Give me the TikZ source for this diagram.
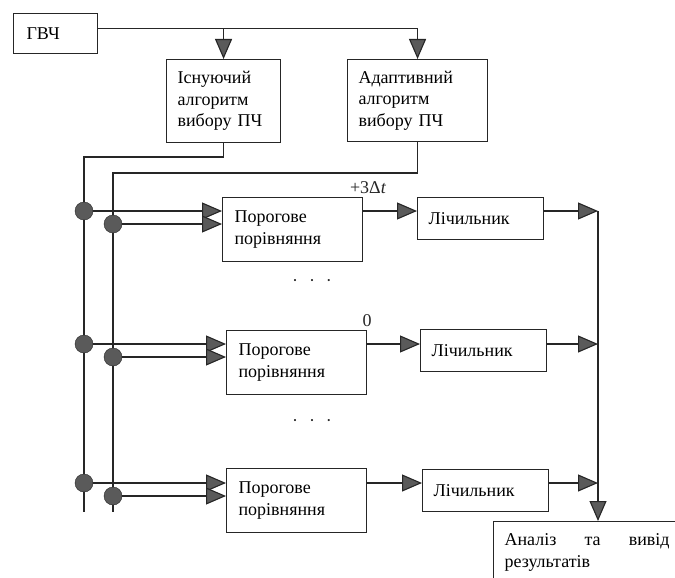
\documentclass[tikz,border=0pt]{standalone}
\usepackage{fontspec}
\setmainfont{Liberation Serif}
\usetikzlibrary{arrows.meta}

\definecolor{linec}{HTML}{262626}
\definecolor{fillc}{HTML}{5A5A5A}

\tikzset{
    ln/.style={draw=linec, line width=1.1pt},
    arr/.style={ln, -{Triangle[length=20pt,width=17pt,fill=fillc]}},
    blk/.style={draw=linec, line width=1.1pt, anchor=north west, align=left,
        inner xsep=11pt, font=\fontsize{18}{21.5}\selectfont},
    cmp/.style={blk, minimum width=140pt, minimum height=64pt, text width=116pt, inner xsep=12pt},
    cnt/.style={blk, minimum width=126pt, minimum height=42pt, text width=104pt},
    dot/.style={circle, draw=linec, fill=fillc, minimum size=18pt, inner sep=0pt},
    lbl/.style={font=\fontsize{18}{21.5}\selectfont, text=linec}
}

\begin{document}
\begin{tikzpicture}[x=1pt,y=-1pt]
    \clip (0,0) rectangle (675,578);
    \fill[white] (0,0) rectangle (675,578);

    % blocks
    \node[blk, minimum width=84pt, minimum height=40pt, text width=58pt, inner xsep=13pt] (gvch) at (13,13) {ГВЧ};
    \node[blk, minimum width=114pt, minimum height=83pt, text width=92pt] (alg1) at (166,59) {Існуючий\\алгоритм\\вибору ПЧ};
    \node[blk, minimum width=140pt, minimum height=82pt, text width=118pt] (alg2) at (347,59) {Адаптивний\\алгоритм\\вибору ПЧ};
    \node[cmp] (cmp1) at (222,197) {Порогове\\порівняння};
    \node[cmp] (cmp2) at (226,330) {Порогове\\порівняння};
    \node[cmp] (cmp3) at (226,468) {Порогове\\порівняння};
    \node[cnt] (cnt1) at (417,197) {Лічильник};
    \node[cnt] (cnt2) at (420,329) {Лічильник};
    \node[cnt] (cnt3) at (422,469) {Лічильник};
    \node[blk, minimum height=62pt, text width=165pt] (res) at (493,521) {\makebox[165pt]{Аналіз\hfill та\hfill вивід}\\результатів};

    % labels
    \node[lbl, above, xshift=5pt] (lab1) at (cmp1.north east) {+3Δ\textit{t}};
    \node[lbl, above] (lab2) at (cmp2.north east) {0};
    \node[lbl] (dots1) at (312,283) {·\hspace{11pt}·\hspace{11pt}·};
    \node[lbl] (dots2) at (312,423) {·\hspace{11pt}·\hspace{11pt}·};

    % generator to algorithms
    \coordinate (top) at ([yshift=5pt]gvch.east);
    \draw[arr] (top) -| (alg2.north);
    \draw[arr] (top -| alg1.north) -- (alg1.north);

    % buses
    \coordinate (b1t) at (84,157);
    \coordinate (b1e) at (84,512);
    \coordinate (b2t) at (113,173);
    \coordinate (b2e) at (113,512);
    \draw[ln] (alg1.south) |- (b1t) -- (b1e);
    \draw[ln] (alg2.south) |- (b2t) -- (b2e);

    \coordinate (sum) at (598,211);
    \foreach \i/\ya in {1/211,2/344,3/483} {
        \node[dot] (da\i) at (84,\ya) {};
        \node[dot] (db\i) at (113,\ya+13) {};
        \draw[arr] (da\i) -- (da\i -| cmp\i.west);
        \draw[arr] (db\i) -- (db\i -| cmp\i.west);
        \draw[arr] (da\i -| cmp\i.east) -- (da\i -| cnt\i.west);
        \draw[arr] (da\i -| cnt\i.east) -- (da\i -| sum);
    }
    \draw[arr] (sum) -- (sum |- res.north);
\end{tikzpicture}
\end{document}
